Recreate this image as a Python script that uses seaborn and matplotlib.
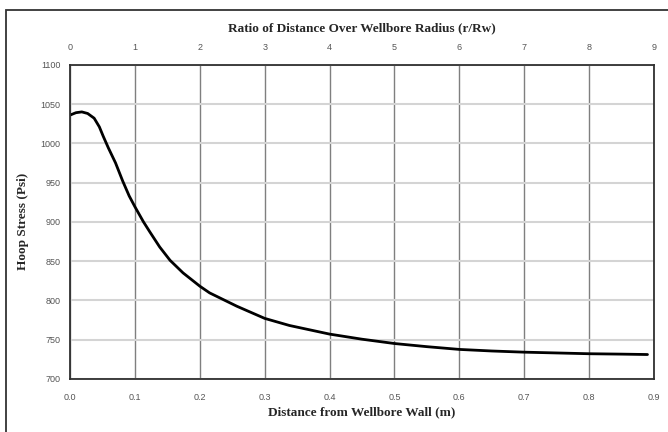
import matplotlib
matplotlib.use('Agg')
import matplotlib.pyplot as plt
import pandas as pd
import seaborn as sns
from matplotlib.patches import Rectangle

# hoop stress vs distance from wellbore wall
distance_m = [0.0, 0.009, 0.018, 0.027, 0.037, 0.045, 0.051, 0.059, 0.070, 0.081,
              0.091, 0.1, 0.113, 0.123, 0.138, 0.154, 0.174, 0.2, 0.215, 0.257,
              0.3, 0.338, 0.369, 0.4, 0.45, 0.5, 0.55, 0.6, 0.65, 0.7,
              0.75, 0.8, 0.85, 0.89]
hoop_psi = [1036, 1039, 1040, 1038, 1032, 1021, 1009, 994, 975, 952,
            933, 919, 900, 887, 868, 851, 835, 818, 809.5, 792.5,
            777, 768, 762.5, 757, 750.5, 745, 741, 737.5, 735.5, 734,
            733, 732, 731.5, 731]
wellbore_radius = 0.1  # r/Rw top axis
ratio_ticks = [0, 1, 2, 3, 4, 5, 6, 7, 8, 9]

data = pd.DataFrame({'distance': distance_m, 'stress': hoop_psi})

sns.set_style('white')
plt.rcParams['font.family'] = ['Liberation Sans', 'DejaVu Sans']

fig = plt.figure(figsize=(6.68, 4.32), dpi=100)
ax = fig.add_axes([0.105, 0.123, 0.874, 0.727])

sns.lineplot(data=data, x='distance', y='stress', ax=ax, color='black', linewidth=2.0)

ax.set_xlim(0, 0.9)
ax.set_ylim(700, 1100)
ax.set_xticks([i / 10 for i in range(10)])
ax.set_xticklabels(['%.1f' % (i / 10) for i in range(10)])
ax.set_yticks(range(700, 1101, 50))

# vertical grid dark, horizontal grid light
ax.xaxis.grid(True, color='#7f7f7f', linewidth=1.0)
ax.yaxis.grid(True, color='#d4d4d4', linewidth=1.5)
ax.set_axisbelow(True)
for s in ax.spines.values():
    s.set_color('#303030')
    s.set_linewidth(1.3)

ax.tick_params(axis='x', length=0, labelsize=6.5, labelcolor='#555555', pad=10)
ax.tick_params(axis='y', length=0, labelsize=6.5, labelcolor='#555555', pad=7)
ax.set_xlabel('Distance from Wellbore Wall (m)', family='Liberation Serif',
              fontweight='bold', fontsize=9.5, labelpad=3)
ax.set_ylabel('Hoop Stress (Psi)', family='Liberation Serif',
              fontweight='bold', fontsize=9.5, labelpad=8)

top = ax.secondary_xaxis('top', functions=(lambda x: x / wellbore_radius,
                                           lambda r: r * wellbore_radius))
top.set_xticks(ratio_ticks)
top.tick_params(length=0, labelsize=6.5, labelcolor='#555555', pad=9)
top.spines['top'].set_visible(False)
top.set_xlabel('Ratio of Distance Over Wellbore Radius (r/Rw)', family='Liberation Serif',
               fontweight='bold', fontsize=9.5, labelpad=9)

# outer frame of the original image
fig.patches.append(Rectangle((6 / 668, -0.05), 1.2, 422 / 432 + 0.05,
                             transform=fig.transFigure, fill=False,
                             edgecolor='#333333', linewidth=1.3))

fig.savefig('out.png', dpi=100)
